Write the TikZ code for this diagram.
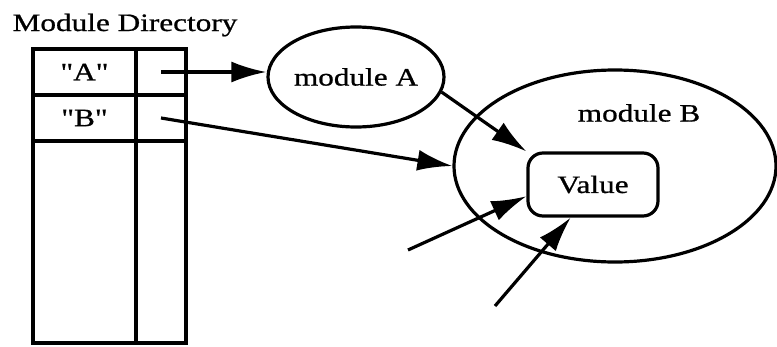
\documentclass[tikz,border=0pt]{standalone}
\usepackage{fontspec}
\setmainfont[Ligatures=TeXOff, FakeStretch=1.25, FakeBold=0.8]{Liberation Serif}
\usetikzlibrary{shapes,arrows.meta,positioning}

\begin{document}
\begin{tikzpicture}[
    x=1pt, y=-1pt,
    node distance=0pt,
    font=\fontsize{25}{30}\selectfont,
    cell/.style={rectangle, draw, line width=3.2pt, inner sep=0pt, outer sep=0pt, minimum height=46pt},
    keycell/.style={cell, minimum width=103pt},
    ptrcell/.style={cell, minimum width=50pt},
    module/.style={ellipse, draw, line width=3.2pt, inner sep=0pt},
    valbox/.style={rectangle, draw, rounded corners=15pt, line width=3.2pt, minimum width=130pt, minimum height=63pt},
    arrow/.style={-{Latex[length=35pt, width=21pt]}, line width=3.2pt}
]
    \useasboundingbox (0,0) rectangle (777,346);
    \node[anchor=base] (title) at (125,31) {Module Directory};
    \node[keycell] (keyA) at (84.5,72) {"A"};
    \node[ptrcell, right=of keyA] (ptrA) {};
    \node[keycell, below=of keyA] (keyB) {"B"};
    \node[ptrcell, right=of keyB] (ptrB) {};
    \node[keycell, below=of keyB, minimum height=202pt] (keyRest) {};
    \node[ptrcell, right=of keyRest, minimum height=202pt] (ptrRest) {};

    \node[module, minimum width=176pt, minimum height=100pt] (modA) at (356,77) {module A};
    \node[module, minimum width=322pt, minimum height=192pt] (modB) at (615,166) {};
    \node (labB) at (639,113) {module B};
    \node[valbox] (val) at (593,184.5) {Value};
    \coordinate (inA) at (408,250);
    \coordinate (inB) at (495,306);

    \draw[arrow] (ptrA.center) -- (ptrA.center -| modA.west);
    \draw[arrow] (ptrB.center) -- (modB.west);
    \draw[arrow] (modA.-10) -- (val.north west);
    \draw[arrow] (inA) -- (val.190);
    \draw[arrow] (inB) -- (val.236);
\end{tikzpicture}
\end{document}
